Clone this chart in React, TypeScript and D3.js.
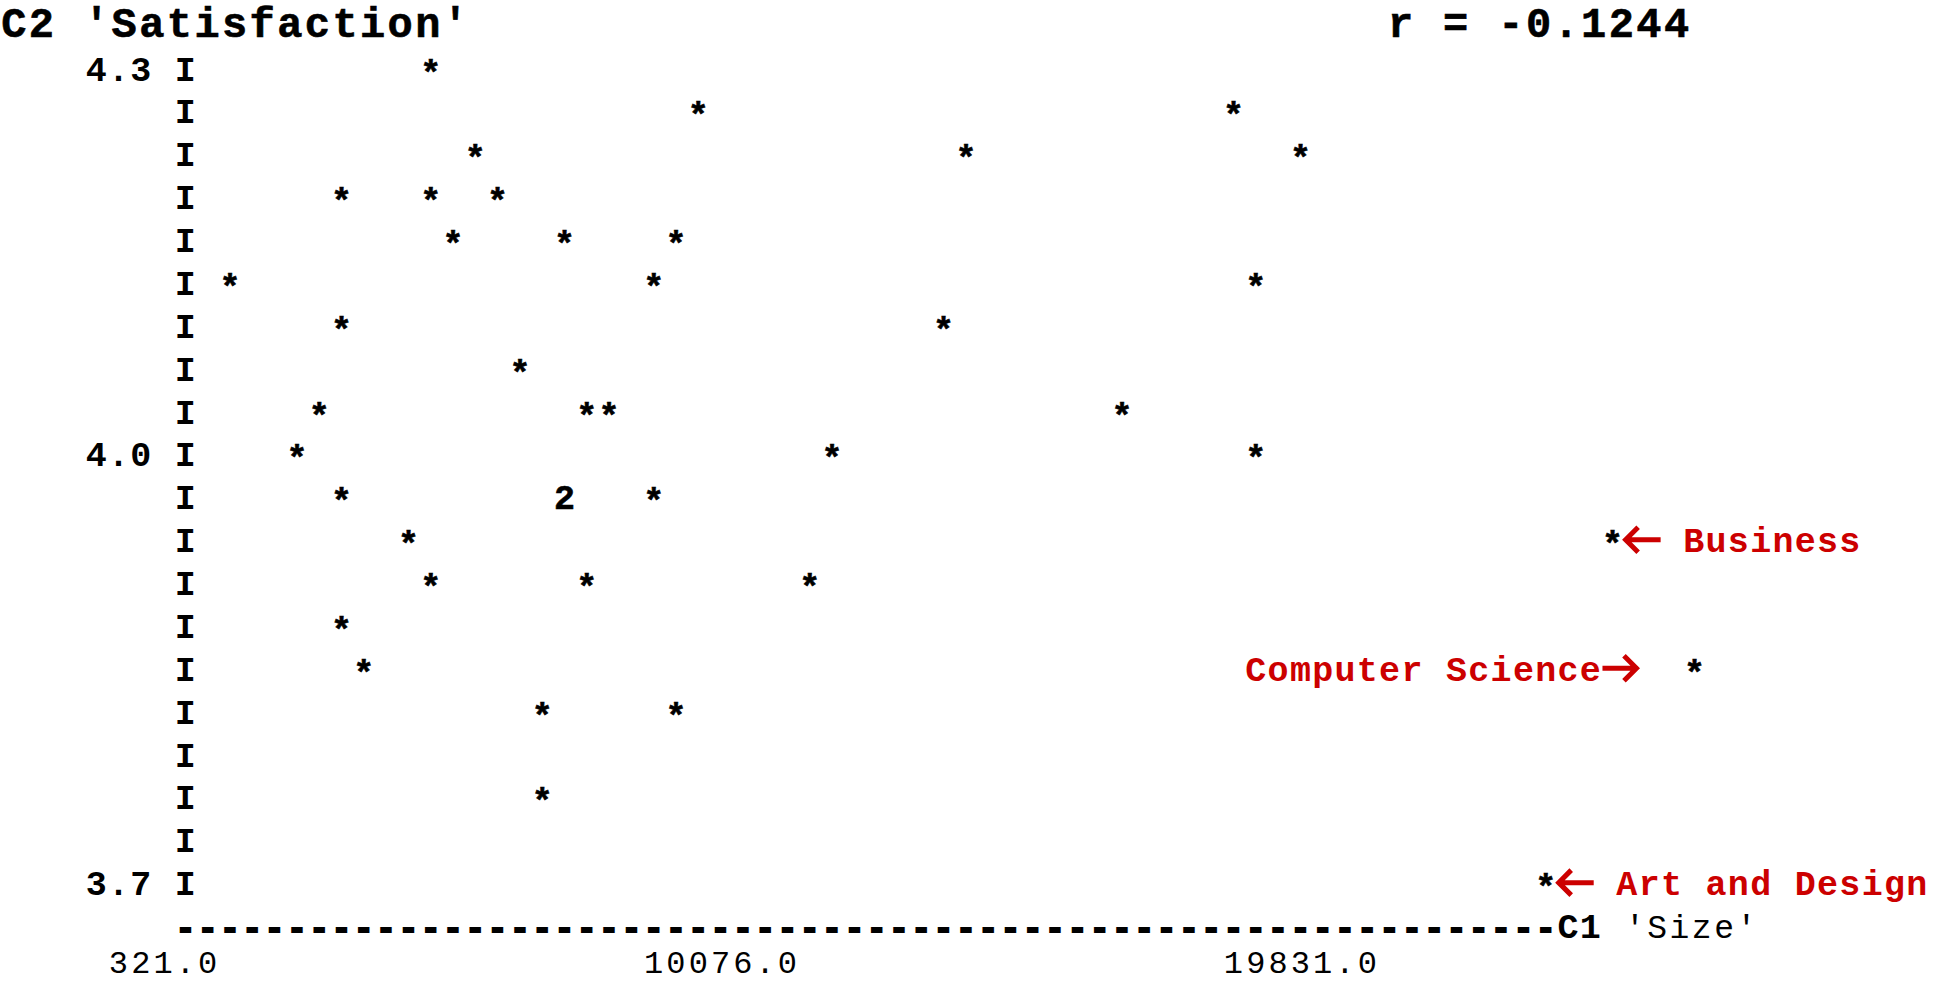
import React from "react";
import * as d3 from "d3";

// ---------------- data ----------------
const sizes = [
  4912,
  9503, 18685,
  5677, 14094, 19832,
  3382, 4912, 6060,
  5295, 7208, 9121,
  1470, 8738, 19067,
  3382, 13711,
  6443,
  3000, 7590, 7973, 16772,
  2617, 11798, 19067,
  3382, 7208, 7208, 8738,
  4530, 25188,
  4912, 7590, 11416,
  3382,
  3765, 26592,
  6825, 9121,
  6825,
  24040,
];
const satisfaction = [
  4.3,
  4.268, 4.268,
  4.237, 4.237, 4.237,
  4.205, 4.205, 4.205,
  4.174, 4.174, 4.174,
  4.142, 4.142, 4.142,
  4.111, 4.111,
  4.079,
  4.047, 4.047, 4.047, 4.047,
  4.016, 4.016, 4.016,
  3.984, 3.984, 3.984, 3.984,
  3.953, 3.953,
  3.921, 3.921, 3.921,
  3.889,
  3.858, 3.858,
  3.826, 3.826,
  3.763,
  3.7,
];

const annotationLabels = ["Business", "Computer Science", "Art and Design"];
const annotationSizes = [25188, 26592, 24040];
const annotationSatisfaction = [3.953, 3.858, 3.7];
const annotationSides = ["right", "left", "right"];

const xTicks = [321, 10076, 19831];
const yTicks = [4.3, 4.0, 3.7];
const yName = "C2 'Satisfaction'";
const corrText = "r = -0.1244";
const xName = "C1";
const xQuote = "'Size'";

// ---------------- layout ----------------
const W = 1935;
const H = 983;
const X0 = 85; // left edge of character grid
const CW = 22.3; // character cell width
const ROW0 = 69.1; // centre of the first plot row
const RH = 42.87; // row height
const NROWS = 20;
const AXIS_COL = 4;
const AXIS_END_COL = 66;
const FS = 35;
const BASE = 11.5;
const STAR_DY = 4;
const BOLD = "'Liberation Mono', 'Courier New', monospace";
const RED = "#cc0000";

function GridText(props: any) {
  const { str, x0, adv, y, ...rest } = props;
  const chars = Array.from(str as string);
  const xs = chars.map((_, i) => x0 + (i + 0.5) * adv);
  return (
    <text
      x={xs.join(" ")}
      y={y}
      textAnchor="middle"
      style={{ whiteSpace: "pre" }}
      {...rest}
    >
      {str}
    </text>
  );
}

export default function App() {
  const yTop = d3.max(yTicks) as number;
  const yBot = d3.min(yTicks) as number;
  const step = (yTop - yBot) / (NROWS - 1);
  const y = d3
    .scaleLinear()
    .domain([yTop, yBot])
    .range([ROW0, ROW0 + (NROWS - 1) * RH]);
  const rowOf = (v: number) => Math.floor((yTop - v) / step + 0.499);
  const rowY = (r: number) => y(yTop - r * step);

  const x = d3
    .scaleLinear()
    .domain([xTicks[0], xTicks[xTicks.length - 1]])
    .range([X0 + 3.5 * CW, X0 + 54.5 * CW]);
  const colX = (c: number) => X0 + c * CW;

  const pts = sizes.map((s, i) => ({ px: x(s), r: rowOf(satisfaction[i]) }));
  const groups = d3.rollups(
    pts,
    (v) => ({ n: v.length, px: v[0].px, r: v[0].r }),
    (d) => `${Math.round(d.px)}|${d.r}`
  );

  const axisRow = NROWS; // row with the dashes
  const fmt = d3.format(".1f");

  return (
    <svg
      width={W}
      height={H}
      style={{ position: "absolute", left: 0, top: 0, display: "block", background: "#fff" }}
      fontFamily={BOLD}
    >
      <rect x={0} y={0} width={W} height={H} fill="#fff" />
      {/* title + correlation */}
      <GridText str={yName} x0={0} adv={27.6} y={37} fontSize={42} fontWeight="bold" fill="#000" stroke="#000" strokeWidth={0.6} />
      <GridText str={corrText} x0={1386.7} adv={27.6} y={37} fontSize={42} fontWeight="bold" fill="#000" stroke="#000" strokeWidth={0.6} />

      {/* y axis: I marks */}
      {d3.range(NROWS).map((r) => (
        <text key={"I" + r} x={colX(AXIS_COL + 0.5)} y={rowY(r) + BASE} textAnchor="middle" fontSize={FS} fontWeight="bold">
          I
        </text>
      ))}
      {/* y tick labels */}
      {yTicks.map((v) => {
        const s = fmt(v);
        return (
          <GridText key={"yt" + v} str={s} x0={colX(AXIS_COL - 1 - s.length)} adv={CW} y={rowY(rowOf(v)) + BASE} fontSize={FS} fontWeight="bold" />
        );
      })}

      {/* x axis dashes */}
      <GridText
        str={"-".repeat(AXIS_END_COL - AXIS_COL)}
        x0={colX(AXIS_COL)}
        adv={CW}
        y={rowY(axisRow) + BASE + 1}
        fontSize={34}
        fontWeight="bold"
        stroke="#000"
        strokeWidth={1.8}
      />
      <GridText str={xName} x0={colX(AXIS_END_COL)} adv={CW} y={rowY(axisRow) + BASE} fontSize={FS} fontWeight="bold" />
      <GridText str={xQuote} x0={colX(AXIS_END_COL + xName.length + 1)} adv={CW} y={rowY(axisRow) + BASE - 0.5} fontSize={33} fontWeight="normal" />

      {/* x tick labels */}
      {xTicks.map((v) => {
        const s = fmt(v);
        const startCol = Math.floor((x(v) - X0) / CW - s.length / 2 + 1e-6);
        return (
          <GridText key={"xt" + v} str={s} x0={colX(startCol)} adv={CW} y={973} fontSize={32} fontWeight="normal" />
        );
      })}

      {/* points */}
      {groups.map(([k, g]) => (
        <text
          key={k}
          x={g.px}
          y={rowY(g.r) + BASE + (g.n > 1 ? 0 : STAR_DY)}
          textAnchor="middle"
          fontSize={FS}
          fontWeight="bold"
          stroke="#000"
          strokeWidth={0.6}
        >
          {g.n > 1 ? String(g.n) : "*"}
        </text>
      ))}

      {/* annotations */}
      {annotationLabels.map((lab, i) => {
        const sx = x(annotationSizes[i]);
        const cy = rowY(rowOf(annotationSatisfaction[i])) - 1;
        const right = annotationSides[i] === "right";
        const tip = right ? sx + 13 : sx - 58;
        const tail = right ? sx + 48 : sx - 92;
        const dir = right ? 1 : -1; // direction from tip to tail
        const hs = 12.5;
        const labelX0 = right ? sx + 70 : tail - 1 - lab.length * CW;
        return (
          <g key={lab}>
            <path
              d={`M${tip},${cy}L${tail},${cy}M${tip + dir * hs},${cy - hs}L${tip},${cy}L${tip + dir * hs},${cy + hs}`}
              fill="none"
              stroke={RED}
              strokeWidth={5}
            />
            <GridText str={lab} x0={labelX0} adv={CW} y={cy + 1 + BASE} fontSize={FS} fontWeight="bold" fill={RED} />
          </g>
        );
      })}
    </svg>
  );
}
